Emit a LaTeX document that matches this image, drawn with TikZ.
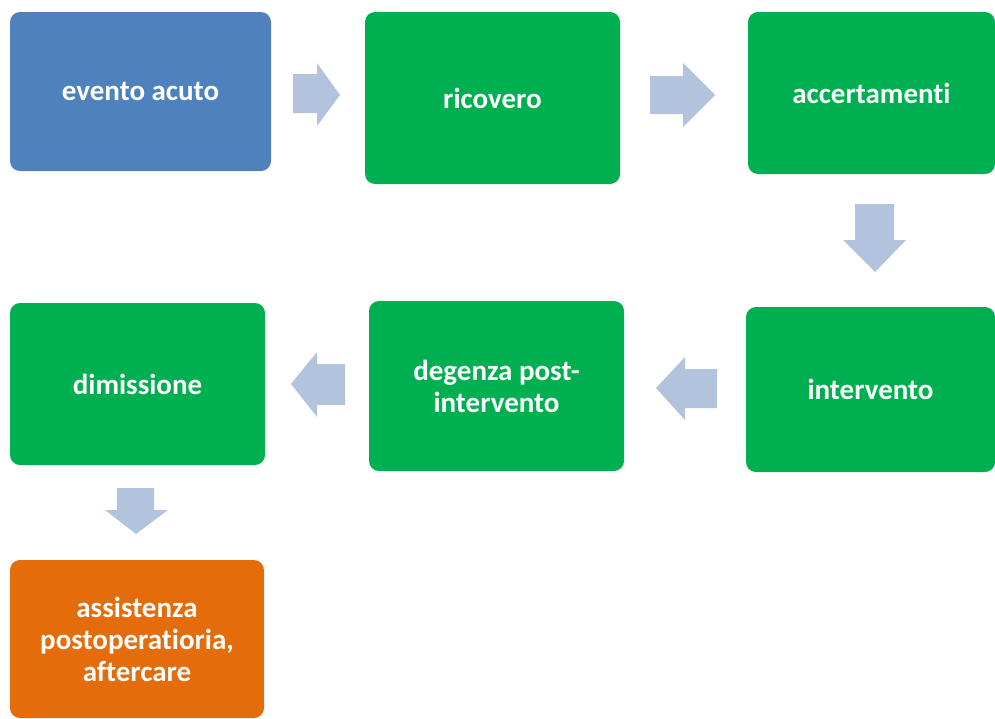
\documentclass[tikz,border=0pt]{standalone}
\usepackage{fontspec}
\setmainfont[Ligatures=NoCommon]{Carlito}
\definecolor{cblue}{RGB}{79,129,189}
\definecolor{cgreen}{RGB}{0,176,80}
\definecolor{corange}{RGB}{228,108,10}
\definecolor{carrow}{RGB}{178,195,222}
\tikzset{
  stepbox/.style={rounded corners=10pt, text=white, align=center, inner sep=0pt,
    font=\bfseries\fontsize{29}{32}\selectfont},
  blockarrow/.style={fill=carrow}
}
\begin{document}
\begin{tikzpicture}[x=1pt,y=-1pt]
\useasboundingbox (0,0) rectangle (995,718);
\clip (0,0) rectangle (995,718);
% boxes
\node[stepbox, fill=cblue,   minimum width=261pt, minimum height=159pt] (evento)   at (140.5,91.5) {evento acuto};
\node[stepbox, fill=cgreen,  minimum width=255pt, minimum height=172pt] (ricovero) at (492.5,98) {ricovero};
\node[stepbox, fill=cgreen,  minimum width=247pt, minimum height=162pt] (accert)   at (871.5,93) {accertamenti};
\node[stepbox, fill=cgreen,  minimum width=249pt, minimum height=165pt] (interv)   at (870.5,389.5) {intervento};
\node[stepbox, fill=cgreen,  minimum width=255pt, minimum height=170pt] (degenza)  at (496.5,386) {degenza post-\\intervento};
\node[stepbox, fill=cgreen,  minimum width=255pt, minimum height=162pt] (dimiss)   at (137.5,384) {dimissione};
\node[stepbox, fill=corange, minimum width=254pt, minimum height=158pt] (assist)   at (137,639) {assistenza\\postoperatioria,\\aftercare};
% block arrows
\fill[blockarrow] (293,74) -- (317,74) -- (317,63) -- (340,95) -- (317,126) -- (317,113) -- (293,113) -- cycle;
\fill[blockarrow] (650,76) -- (683,76) -- (683,63) -- (715,95) -- (683,127) -- (683,114) -- (650,114) -- cycle;
\fill[blockarrow] (855,204) -- (894,204) -- (894,240) -- (906,240) -- (875,272) -- (843,240) -- (855,240) -- cycle;
\fill[blockarrow] (717,369) -- (685,369) -- (685,357) -- (656,388) -- (685,420) -- (685,408) -- (717,408) -- cycle;
\fill[blockarrow] (345,364) -- (317,364) -- (317,352) -- (291,384) -- (317,417) -- (317,405) -- (345,405) -- cycle;
\fill[blockarrow] (117,488) -- (154,488) -- (154,510) -- (168,510) -- (136,534) -- (105,510) -- (117,510) -- cycle;
\end{tikzpicture}
\end{document}
